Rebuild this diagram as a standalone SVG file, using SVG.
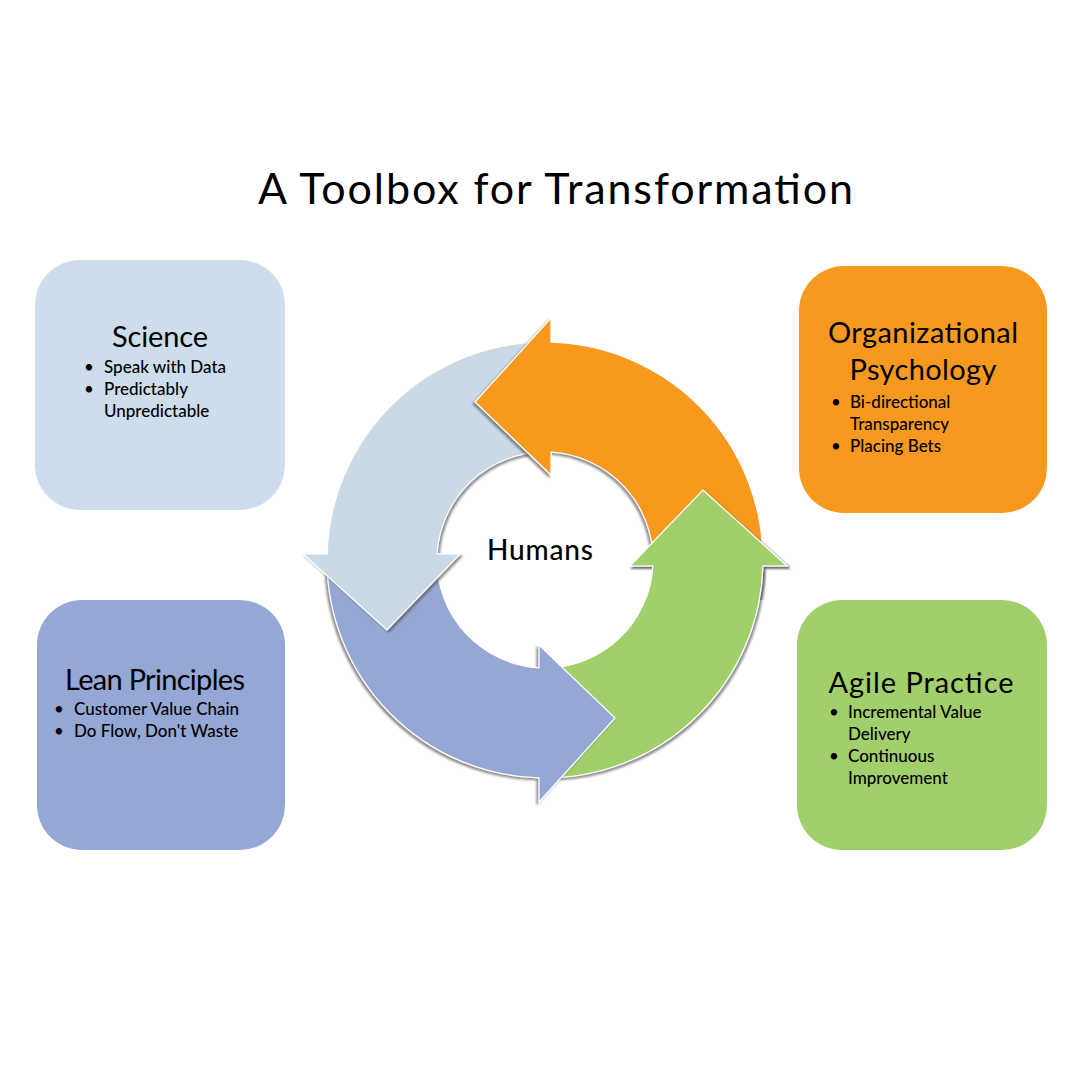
<svg xmlns="http://www.w3.org/2000/svg" xmlns:xlink="http://www.w3.org/1999/xlink" width="1080" height="1080" viewBox="0 0 1080 1080">
<style>
.t{font-family:Lato,"Noto Sans","Liberation Sans",sans-serif;fill:#000}
.title{font-size:43px}
.h{font-size:29px;text-anchor:middle}
.b{font-size:17px;font-weight:500}
.dot{font-size:17px;text-anchor:middle}
.arr{stroke:#fff;stroke-width:1.2;stroke-linejoin:miter}
</style>
<defs>
<path id="arrow" d="M6 -242 L-70 -158 L6 -85 L6 -107.8 A108 108 0 0 1 108 0 L218 0 A218 218 0 0 0 6 -217.9 Z"/>
<filter id="shA" x="-20%" y="-20%" width="140%" height="140%"><feDropShadow dx="-2" dy="2" stdDeviation="1.3" flood-color="#555" flood-opacity="0.65"/></filter>
<filter id="shB" x="-20%" y="-20%" width="140%" height="140%"><feDropShadow dx="2" dy="-2" stdDeviation="1.3" flood-color="#555" flood-opacity="0.65"/></filter>
<clipPath id="headclip"><rect x="-110" y="-270" width="150" height="200"/></clipPath>
</defs>
<rect width="1080" height="1080" fill="#fff"/>
<text class="t title" x="258" y="204" textLength="595">A Toolbox for Transformation</text>

<g id="cycle">
<g id="arrow-green" transform="translate(545 560) rotate(90)"><use href="#arrow" class="arr" fill="#A1CF6B" filter="url(#shB)"/></g>
<g id="arrow-blue" transform="translate(545 560) rotate(180)"><use href="#arrow" class="arr" fill="#95A8D5" filter="url(#shB)"/></g>
<g id="arrow-lightblue" transform="translate(545 560) rotate(270)"><use href="#arrow" class="arr" fill="#C9D9E6" filter="url(#shA)"/></g>
<g id="arrow-orange" transform="translate(545 560)"><use href="#arrow" class="arr" fill="#F7991F" filter="url(#shA)"/></g>
<g id="arrow-green-head" transform="translate(545 560) rotate(90)" clip-path="url(#headclip)"><use href="#arrow" class="arr" fill="#A1CF6B" filter="url(#shB)"/></g>
</g>

<g id="humans"><text class="t" x="487" y="560" font-size="28" font-weight="500" textLength="106">Humans</text></g>

<g id="science">
<rect x="35" y="260" width="250" height="250" rx="45" fill="#CDDDEB"/>
<text class="t h" x="160" y="347" textLength="96">Science</text>
<text class="t dot" x="89" y="373">•</text>
<text class="t b" x="104" y="373">Speak with Data</text>
<text class="t dot" x="89" y="395">•</text>
<text class="t b" x="104" y="395">Predictably</text>
<text class="t b" x="104" y="417">Unpredictable</text>
</g>

<g id="org-psych">
<rect x="799" y="266" width="248" height="247" rx="45" fill="#F7991F"/>
<text class="t h" x="923" y="343" textLength="190">Organizational</text>
<text class="t h" x="923" y="380" textLength="147">Psychology</text>
<text class="t dot" x="836" y="408">•</text>
<text class="t b" x="850" y="408">Bi-directional</text>
<text class="t b" x="850" y="430">Transparency</text>
<text class="t dot" x="836" y="452">•</text>
<text class="t b" x="850" y="452">Placing Bets</text>
</g>

<g id="lean">
<rect x="37" y="600" width="248" height="250" rx="45" fill="#95A8D5"/>
<text class="t h" x="155" y="690" textLength="180">Lean Principles</text>
<text class="t dot" x="59" y="715">•</text>
<text class="t b" x="74" y="715">Customer Value Chain</text>
<text class="t dot" x="59" y="737">•</text>
<text class="t b" x="74" y="737">Do Flow, Don't Waste</text>
</g>

<g id="agile">
<rect x="797" y="600" width="250" height="250" rx="45" fill="#A1CF6B"/>
<text class="t h" x="921" y="693" textLength="185">Agile Practice</text>
<text class="t dot" x="834" y="718">•</text>
<text class="t b" x="848" y="718">Incremental Value</text>
<text class="t b" x="848" y="740">Delivery</text>
<text class="t dot" x="834" y="762">•</text>
<text class="t b" x="848" y="762">Continuous</text>
<text class="t b" x="848" y="784">Improvement</text>
</g>
</svg>
